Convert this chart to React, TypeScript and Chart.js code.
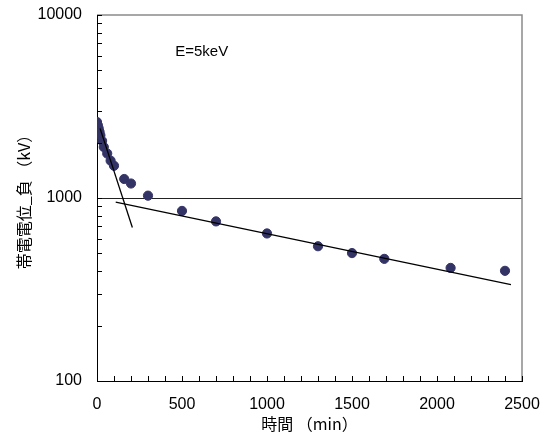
import React, { useEffect, useRef } from 'react';
import { Chart, registerables } from 'chart.js';

Chart.register(...registerables);

// Measured data: time (min) vs. negative charge potential (kV)
const timeMin = [0, 5, 10, 15, 20, 30, 40, 60, 80, 100, 160, 200, 300, 500, 700, 1000, 1300, 1500, 1690, 2080, 2400];
const chargeKV = [2600, 2500, 2400, 2300, 2200, 2050, 1900, 1750, 1600, 1500, 1270, 1200, 1030, 850, 745, 640, 545, 500, 465, 415, 400];

// Fitted lines (two end points each)
const fastFitT = [18, 208];
const fastFitV = [2400, 690];
const slowFitT = [110, 2435];
const slowFitV = [950, 336];

// Axis settings
const xMin = 0;
const xMax = 2500;
const xLabelStep = 500;
const xMinorStep = 100;
const yMajor = [100, 1000, 10000];
const annotationText = 'E=5keV';
const annotationAt = { x: 460, y: 6300 };

const xTitle = '時間 （min）';
const yTitle = '帯電電位_負 （kV）';

const inwardTicks = {
  id: 'inwardTicks',
  afterDraw(chart: any) {
    const { ctx, chartArea, scales } = chart;
    const xs = scales.x;
    const ys = scales.y;
    ctx.save();
    // top & right frame (grey)
    ctx.strokeStyle = '#8a8a8a';
    ctx.lineWidth = 1.5;
    ctx.beginPath();
    ctx.moveTo(chartArea.left, chartArea.top);
    ctx.lineTo(chartArea.right, chartArea.top);
    ctx.lineTo(chartArea.right, chartArea.bottom);
    ctx.stroke();

    ctx.strokeStyle = '#000';
    ctx.lineWidth = 1;
    ctx.beginPath();
    for (let v = xMin; v <= xMax; v += xMinorStep) {
      const px = Math.round(xs.getPixelForValue(v)) + 0.5;
      ctx.moveTo(px, chartArea.bottom);
      ctx.lineTo(px, chartArea.bottom - 5);
    }
    for (let i = 0; i < yMajor.length; i++) {
      const d = yMajor[i];
      const lim = i === yMajor.length - 1 ? 1 : 9;
      for (let m = 1; m <= lim; m++) {
        const py = Math.round(ys.getPixelForValue(d * m)) + 0.5;
        ctx.moveTo(chartArea.left, py);
        ctx.lineTo(chartArea.left + 5, py);
      }
    }
    ctx.stroke();

    // annotation
    ctx.fillStyle = '#000';
    ctx.font = '15px "Liberation Sans", Arial, sans-serif';
    ctx.textAlign = 'left';
    ctx.textBaseline = 'middle';
    ctx.fillText(annotationText, xs.getPixelForValue(annotationAt.x), ys.getPixelForValue(annotationAt.y));
    ctx.restore();
  },
};

export default function App() {
  const ref = useRef<HTMLCanvasElement>(null);
  useEffect(() => {
    const chart = new Chart(ref.current as HTMLCanvasElement, {
      type: 'scatter',
      data: {
        datasets: [
          {
            label: 'data',
            data: timeMin.map((t, i) => ({ x: t, y: chargeKV[i] })),
            pointRadius: 4.6,
            pointBorderWidth: 1,
            pointBackgroundColor: '#333366',
            pointBorderColor: '#333366',
            showLine: false,
            order: 1,
          },
          {
            label: 'fast',
            data: fastFitT.map((t, i) => ({ x: t, y: fastFitV[i] })),
            showLine: true,
            pointRadius: 0,
            borderColor: '#000',
            borderWidth: 1.3,
            order: 0,
          },
          {
            label: 'slow',
            data: slowFitT.map((t, i) => ({ x: t, y: slowFitV[i] })),
            showLine: true,
            pointRadius: 0,
            borderColor: '#000',
            borderWidth: 1.3,
            order: 0,
          },
        ],
      },
      options: {
        animation: false,
        responsive: false,
        maintainAspectRatio: false,
        layout: { padding: { left: 0, top: 15, right: 28, bottom: 0 } },
        plugins: { legend: { display: false }, tooltip: { enabled: false } },
        scales: {
          x: {
            type: 'linear',
            min: xMin,
            max: xMax,
            ticks: {
              stepSize: xLabelStep,
              padding: 14,
              color: '#000',
              font: { family: '"Liberation Sans", Arial, sans-serif', size: 16 },
              callback: (v: any) => String(v),
            },
            grid: { display: false, drawTicks: false },
            border: { display: true, color: '#000', width: 1 },
            title: {
              display: true,
              text: xTitle,
              color: '#000',
              padding: { top: 0, bottom: 0 },
              font: { family: '"Noto Sans CJK JP", sans-serif', size: 16 },
            },
            afterFit(s: any) {
              s.height = 53;
              s.paddingLeft = 0;
              s.paddingRight = 0;
            },
          },
          y: {
            type: 'logarithmic',
            min: 100,
            max: 10000,
            afterBuildTicks(s: any) {
              s.ticks = yMajor.map((v) => ({ value: v, major: true }));
            },
            ticks: {
              padding: 15,
              color: '#000',
              font: { family: '"Liberation Sans", Arial, sans-serif', size: 16 },
              callback: (v: any) => String(v),
            },
            grid: {
              drawTicks: false,
              color: (c: any) => (c.tick && c.tick.value === 1000 ? '#222' : 'rgba(0,0,0,0)'),
              lineWidth: 1,
            },
            border: { display: true, color: '#000', width: 1 },
            title: {
              display: true,
              text: yTitle,
              color: '#000',
              padding: { top: 14, bottom: 0 },
              font: { family: '"Noto Sans CJK JP", sans-serif', size: 16 },
            },
            afterFit(s: any) {
              s.width = 97;
              s.paddingTop = 0;
              s.paddingBottom = 0;
            },
          },
        },
      },
      plugins: [inwardTicks],
    } as any);
    return () => chart.destroy();
  }, []);
  return (
    <div style={{ position: 'absolute', left: 0, top: 0, width: 550, height: 434, background: '#fff' }}>
      <canvas ref={ref} width={550} height={434} />
    </div>
  );
}
